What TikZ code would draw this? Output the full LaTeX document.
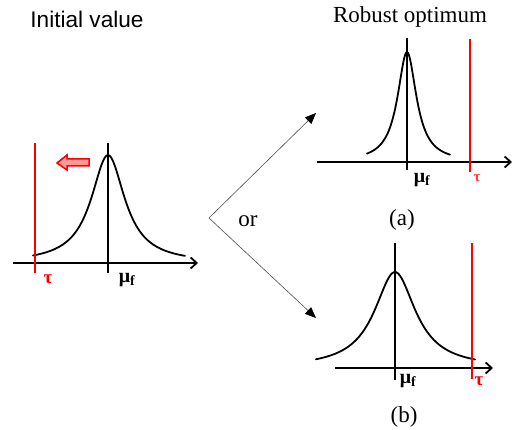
\documentclass[tikz,border=0pt]{standalone}
\usepackage{fontspec}
\setmainfont{Liberation Serif}
\newfontfamily\sansfam{Liberation Sans}
\usetikzlibrary{arrows.meta}

\begin{document}
\begin{tikzpicture}[
    x=1pt, y=-1pt,
    every node/.style={inner sep=0pt, align=center},
    axisline/.style={line width=2.6pt, -{Straight Barb[length=6pt,width=11pt,line width=1.8pt]}},
    meanline/.style={line width=1.8pt},
    tauline/.style={red, line width=2.6pt},
    curve/.style={line width=1.8pt, line cap=round},
    branch/.style={line width=0.6pt, black!70, -{Triangle[length=11pt,width=9pt,black]}},
    title/.style={font=\fontsize{23}{27}\selectfont, anchor=base},
    mulabel/.style={font=\fontsize{20}{22}\selectfont\bfseries},
    taulabel/.style={font=\fontsize{19}{21}\selectfont\bfseries, text=red}
]
\useasboundingbox (0,0) rectangle (515,430);

% Titles
\node[title, font=\sansfam\fontsize{22.6}{27}\selectfont] (init) at (87,28) {Initial value};
\node[title] (robust) at (410,23) {Robust optimum};

% Initial value
\draw[axisline] (13,263) -- (198,263);
\draw[meanline] (108,143) -- (108,273);
\draw[curve] plot[domain=-75:77, samples=90] ({\x+108}, {263-108/(1+(\x/20.5)^2)});
\draw[tauline] (35,143) -- (35,273);
\draw[red, line width=1.5pt, fill=red!40]
    (57,163) -- (67,155) -- (67,159) -- (89,159) -- (89,166) -- (67,166) -- (67,170) -- cycle;
\node[taulabel] (tau0) at (48,279) {τ};
\node[mulabel] (mu0) at (127,280) {μ\textsubscript{f}};

% Branches
\coordinate (split) at (209,218);
\coordinate (toa) at (316,113);
\coordinate (tob) at (316,318);
\draw[branch] (split) -- (toa);
\draw[branch] (split) -- (tob);
\node[title] (or) at (248,227) {or};

% Case (a)
\draw[axisline] (317,162) -- (512,162);
\draw[meanline] (407,38) -- (407,170);
\draw[curve] plot[domain=-40:43, samples=90] ({\x+407}, {162-110/(1+(\x/11.5)^2)});
\draw[tauline, line width=2pt] (470,39) -- (470,172);
\node[taulabel, font=\fontsize{15}{17}\selectfont\bfseries, text=red!75] (taua) at (477,178) {τ};
\node[mulabel] (mua) at (422,180) {μ\textsubscript{f}};
\node[title] (capa) at (402,226) {(a)};

% Case (b)
\draw[axisline] (335,368) -- (493,368);
\draw[meanline] (395,243) -- (395,380);
\draw[curve] plot[domain=-79:80, samples=90] ({\x+395}, {368-96/(1+(\x/25)^2)});
\draw[tauline] (472,243) -- (472,379);
\node[taulabel] (taub) at (479,381) {τ};
\node[mulabel] (mub) at (408,381) {μ\textsubscript{f}};
\node[title] (capb) at (404,423) {(b)};

\end{tikzpicture}
\end{document}
